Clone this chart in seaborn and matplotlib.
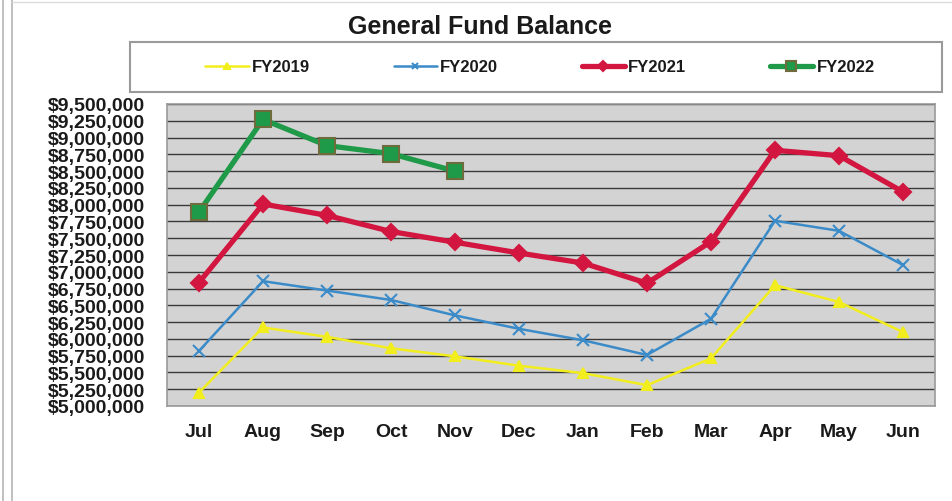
import seaborn as sns
import matplotlib.pyplot as plt
import matplotlib.ticker as mticker
from matplotlib.patches import Rectangle
from matplotlib.lines import Line2D
import pandas as pd

# Dados
meses = ["Jul", "Aug", "Sep", "Oct", "Nov", "Dec", "Jan", "Feb", "Mar", "Apr", "May", "Jun"]
fy2019 = [5200000, 6170000, 6030000, 5860000, 5740000, 5600000, 5490000, 5310000, 5710000, 6800000, 6550000, 6100000]
fy2020 = [5820000, 6860000, 6720000, 6580000, 6350000, 6150000, 5980000, 5760000, 6300000, 7760000, 7610000, 7100000]
fy2021 = [6840000, 8010000, 7840000, 7600000, 7440000, 7280000, 7130000, 6830000, 7450000, 8810000, 8730000, 8190000]
fy2022 = [7890000, 9270000, 8880000, 8760000, 8500000]

series = {"FY2019": fy2019, "FY2020": fy2020, "FY2021": fy2021, "FY2022": fy2022}
linhas = []
for nome, valores in series.items():
    for mes, v in zip(meses, valores):
        linhas.append({"Mes": mes, "Saldo": v, "Ano": nome})
df = pd.DataFrame(linhas)

estilos = {
    "FY2019": dict(color="#f2ee1e", marker="^", lw=1.8, ms=7, mec="#f2ee1e"),
    "FY2020": dict(color="#3b8bc9", marker="x", lw=1.8, ms=8, mec="#3b8bc9"),
    "FY2021": dict(color="#d2163f", marker="D", lw=3.8, ms=8, mec="#d2163f"),
    "FY2022": dict(color="#1f9a48", marker="s", lw=3.8, ms=11, mec="#6e6c3c"),
}

sns.set_style("white")
plt.rcParams["font.family"] = ["Liberation Sans", "DejaVu Sans"]

fig = plt.figure(figsize=(9.52, 5.02), dpi=100)
ax = fig.add_axes([167 / 952, 1 - 407 / 502, (935 - 167) / 952, (407 - 105) / 502])
ax.set_facecolor("#d3d3d3")

for nome in series:
    e = estilos[nome]
    sns.lineplot(data=df[df["Ano"] == nome], x="Mes", y="Saldo", ax=ax,
                 color=e["color"], marker=e["marker"], linewidth=e["lw"],
                 markersize=e["ms"], markeredgecolor=e["mec"],
                 markeredgewidth=1.5, label=nome, sort=False, legend=False)

ax.set_xlim(-0.5, 11.5)
ax.set_ylim(5000000, 9500000)
ax.yaxis.set_major_locator(mticker.MultipleLocator(250000))
ax.yaxis.set_major_formatter(mticker.FuncFormatter(lambda v, p: f"${v:,.0f}"))
ax.grid(axis="y", color="#3a3a3a", linewidth=1.0)
ax.set_axisbelow(True)
ax.set_xlabel("")
ax.set_ylabel("")

for s in ax.spines.values():
    s.set_color("#9a9a9a")
    s.set_linewidth(1.2)

ax.tick_params(axis="y", labelsize=14, length=4, width=1, color="#555555", pad=12)
ax.tick_params(axis="x", labelsize=14, length=0, pad=12)
for t in ax.get_yticklabels() + ax.get_xticklabels():
    t.set_fontweight("bold")
    t.set_color("#1a1a1a")
# marcas entre as categorias
ax.set_xticks([i + 0.5 for i in range(-1, 12)], minor=True)
ax.tick_params(axis="x", which="minor", length=5, width=1, color="#777777")

fig.text(0.504, 1 - 27 / 502, "General Fund Balance", ha="center", va="center",
         fontsize=18, fontweight="bold", color="#1a1a1a")

# caixa da legenda
fig.patches.append(Rectangle((130 / 952, 1 - 93 / 502), (942 - 130) / 952, 50 / 502,
                             transform=fig.transFigure, facecolor="white",
                             edgecolor="#9a9a9a", linewidth=1.5))
handles, labels = ax.get_legend_handles_labels()
leg = fig.legend(handles, labels, loc="center", bbox_to_anchor=(540 / 952, 1 - 68 / 502),
                 ncol=4, frameon=False, fontsize=12, handlelength=2.6,
                 handletextpad=0.2, columnspacing=5.0, markerscale=0.6)
for t in leg.get_texts():
    t.set_fontweight("bold")
    t.set_color("#1a1a1a")

# bordas da esquerda
for xb in (3, 12):
    fig.lines.append(Line2D([xb / 952, xb / 952], [0, 1], transform=fig.transFigure,
                            color="#b5b5b5", linewidth=1.2))
fig.lines.append(Line2D([12 / 952, 1], [1 - 3 / 502, 1 - 3 / 502], transform=fig.transFigure,
                        color="#dddddd", linewidth=1.0))

fig.savefig("out.png", dpi=100)
